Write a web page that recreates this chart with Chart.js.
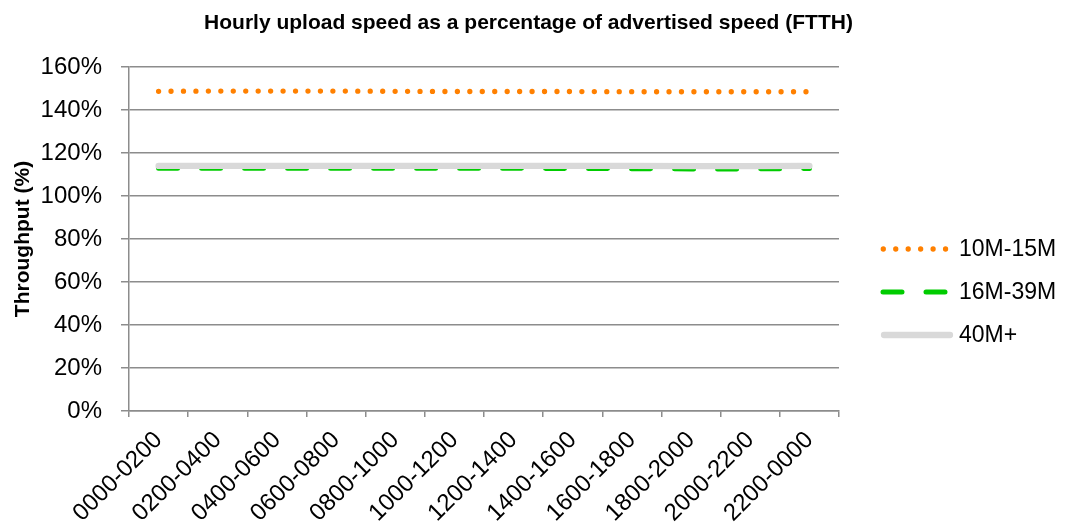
<!DOCTYPE html>
<html lang="en">
<head>
  <meta charset="UTF-8" />
  <title>Hourly upload speed (FTTH)</title>
  <script src="https://cdn.jsdelivr.net/npm/chart.js"></script>
  <style>
    html, body {
      margin: 0;
      padding: 0;
      background: #ffffff;
    }
    .wrap {
      width: 1066px;
      height: 529px;
      position: relative;
    }
  </style>
</head>
<body>

  <div class="wrap">
    <canvas id="chart" width="1066" height="529"></canvas>
  </div>

  <script>
    // time slots on the x axis
    const slots = ['0000-0200', '0200-0400', '0400-0600', '0600-0800', '0800-1000', '1000-1200',
                   '1200-1400', '1400-1600', '1600-1800', '1800-2000', '2000-2200', '2200-0000'];

    // throughput as % of advertised upload speed
    const tier10to15 = [148.7, 148.8, 148.8, 148.8, 148.7, 148.6, 148.6, 148.6, 148.5, 148.5, 148.5, 148.5];
    const tier16to39 = [112.9, 112.9, 112.9, 112.9, 112.9, 112.9, 112.9, 112.8, 112.7, 112.6, 112.6, 112.8];
    const tier40plus = [114.0, 114.0, 114.0, 114.0, 114.0, 114.0, 114.0, 114.0, 114.0, 113.9, 113.9, 114.0];

    const yTicks = [0, 20, 40, 60, 80, 100, 120, 140, 160];

    const chartTitle = 'Hourly upload speed as a percentage of advertised speed (FTTH)';
    const gridGray = '#8c8c8c';
    const font = 'Liberation Sans, Arial, sans-serif';

    // title + legend drawn by hand: title is centred on the whole canvas,
    // legend keeps the dash patterns of the lines
    const titleAndLegend = {
      id: 'titleAndLegend',
      afterDraw(chart) {
        const ctx = chart.ctx;
        ctx.save();
        ctx.fillStyle = '#000';
        ctx.font = 'bold 21px ' + font;
        ctx.textAlign = 'center';
        ctx.textBaseline = 'middle';
        ctx.fillText(chartTitle, 528.5, 23);
        ctx.restore();

        const rows = [249, 292, 335];
        chart.data.datasets.forEach((ds, i) => {
          const y = rows[i];
          ctx.save();
          ctx.strokeStyle = ds.borderColor;
          ctx.lineWidth = ds.borderWidth;
          ctx.lineCap = 'round';
          ctx.setLineDash(ds.borderDash || []);
          ctx.beginPath();
          ctx.moveTo(ds.legendStart, y);
          ctx.lineTo(950, y);
          ctx.stroke();
          ctx.setLineDash([]);
          ctx.fillStyle = '#000';
          ctx.font = '23px ' + font;
          ctx.textBaseline = 'middle';
          ctx.textAlign = 'left';
          ctx.fillText(ds.label, 959, y + 1);
          ctx.restore();
        });
      }
    };

    new Chart(document.getElementById('chart'), {
      type: 'line',
      data: {
        labels: slots,
        datasets: [
          {
            label: '10M-15M',
            data: tier10to15,
            borderColor: '#ff8000',
            borderWidth: 5.3,
            borderDash: [0, 12.45],
            borderCapStyle: 'round',
            legendStart: 883.3,
            pointRadius: 0,
            order: 3
          },
          {
            label: '16M-39M',
            data: tier16to39,
            borderColor: '#00cc00',
            borderWidth: 5,
            borderDash: [19, 24],
            borderCapStyle: 'round',
            legendStart: 883,
            pointRadius: 0,
            order: 2
          },
          {
            label: '40M+',
            data: tier40plus,
            borderColor: '#d9d9d9',
            borderWidth: 6.3,
            borderCapStyle: 'round',
            legendStart: 884,
            pointRadius: 0,
            order: 1
          }
        ]
      },
      options: {
        responsive: false,
        animation: false,
        events: [],
        layout: {
          padding: { left: 0, right: 227, top: 67, bottom: 0 }
        },
        plugins: {
          legend: { display: false },
          tooltip: { enabled: false },
          title: { display: false }
        },
        scales: {
          x: {
            offset: true,
            grid: {
              offset: true,
              drawOnChartArea: false,
              drawTicks: true,
              tickLength: 6,
              color: gridGray,
              lineWidth: 1.5
            },
            border: { color: gridGray, width: 1.5 },
            ticks: {
              color: '#000',
              font: { family: font, size: 24 },
              minRotation: 45,
              maxRotation: 45,
              padding: 9,
              autoSkip: false
            },
            afterFit(scale) { scale.height = 118; }
          },
          y: {
            min: 0,
            max: 160,
            afterBuildTicks(scale) { scale.ticks = yTicks.map(v => ({ value: v })); },
            grid: {
              color: gridGray,
              lineWidth: 1.5,
              tickLength: 8
            },
            border: { color: gridGray, width: 1.5 },
            ticks: {
              color: '#000',
              font: { family: font, size: 24 },
              padding: 19,
              callback: v => v + '%'
            },
            title: {
              display: true,
              text: 'Throughput (%)',
              color: '#000',
              font: { family: font, size: 21, weight: 'bold' },
              padding: { top: 11, bottom: 0 }
            },
            afterFit(scale) { scale.width = 129; }
          }
        }
      },
      plugins: [titleAndLegend]
    });
  </script>

</body>
</html>
